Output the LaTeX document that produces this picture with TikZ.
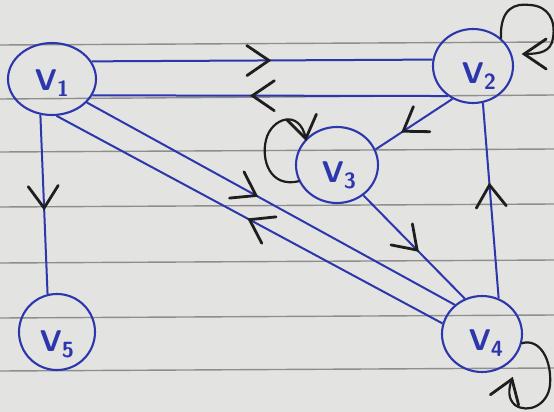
\documentclass[tikz,border=0pt]{standalone}
\usetikzlibrary{shapes.geometric,decorations.markings}
\definecolor{paper}{HTML}{E3E3E1}
\definecolor{rule}{HTML}{8E8E8C}
\definecolor{blueink}{HTML}{2C36AD}
\definecolor{ink}{HTML}{1E1E1E}
\newcommand\vlab[1]{\sffamily\bfseries V\raisebox{-6pt}{\fontsize{22}{22}\selectfont #1}}
\newcommand\chevron{\draw[ink,line width=2.8pt,line cap=round,line join=miter]
  (-22pt,15pt) -- (0pt,0pt) -- (-22pt,-15pt);}
\tikzset{
  vertex/.style={ellipse,draw=blueink,line width=2.1pt,inner sep=0pt},
  lbl/.style={text=blueink,font=\fontsize{30}{30}\selectfont,inner sep=0pt},
  edge/.style={draw=blueink,line width=2pt},
  midchev/.style={postaction={decorate},
    decoration={markings,mark=at position #1 with {\chevron}}},
  selfloop/.style={draw=ink,line width=2.2pt,line cap=round,postaction={decorate},
    decoration={markings,mark=at position 0.999 with {\chevron}}},
  paperline/.style={draw=rule,line width=1.4pt}
}
\begin{document}
\begin{tikzpicture}[x=1pt,y=-1pt]
  % sheet and ruling
  \fill[paper] (0,0) rectangle (554,412);
  \useasboundingbox (0,0) rectangle (554,412);
  \foreach \yl/\yr in {45/42,99/95,152/149,207/204,263/260,318/315,371/368}
    \draw[paperline] (0,\yl) -- (554,\yr);

  % vertices
  \node[vertex,minimum width=88pt,minimum height=72pt,
        label={[lbl,xshift=0pt,yshift=-4pt]center:\vlab{1}}] (v1) at (52,79) {};
  \node[vertex,minimum width=80pt,minimum height=74pt,
        label={[lbl,xshift=6pt,yshift=-10pt]center:\vlab{2}}] (v2) at (473,66) {};
  \node[vertex,minimum width=82pt,minimum height=76pt,
        label={[lbl,xshift=2pt,yshift=-10pt]center:\vlab{3}}] (v3) at (337,165) {};
  \node[vertex,minimum width=80pt,minimum height=76pt,
        label={[lbl,xshift=4pt,yshift=-9pt]center:\vlab{4}}] (v4) at (482,334) {};
  \node[vertex,minimum width=76pt,minimum height=76pt,
        label={[lbl,xshift=0pt,yshift=-12pt]center:\vlab{5}}] (v5) at (57,332) {};

  % directed edges with chevrons drawn part-way along
  \draw[edge,midchev=0.52] (v1.24)   -- (v2.171);
  \draw[edge,midchev=0.55] (v2.-130) -- (v1.-22);
  \draw[edge,midchev=0.46] (v1.-34)  -- (v4.133);
  \draw[edge,midchev=0.50] (v4.165)  -- (v1.-83);
  \draw[edge,midchev=0.52] (v1.-108) -- (v5.104);
  \draw[edge,midchev=0.64] (v2.-122) -- (v3.22);
  \draw[edge,midchev=0.53] (v3.-49)  -- (v4.116);
  \draw[edge,midchev=0.58] (v4.65)   -- (v2.-75);

  % self loops
  \coordinate (t2) at (524,54);
  \draw[selfloop] (v2.45) .. controls (500,8) and (515,3) .. (530,5)
    .. controls (548,6) and (556,20) .. (553,38)
    .. controls (551,52) and (540,54) .. (t2);
  \draw[selfloop] (v3.203) .. controls (270,188) and (261,160) .. (266,140)
    .. controls (271,118) and (300,108) .. (v3.140);
  \coordinate (t4) at (512,379);
  \draw[selfloop] (v4.-13) .. controls (540,338) and (552,360) .. (550,385)
    .. controls (548,405) and (528,414) .. (515,405)
    .. controls (508,399) and (508,390) .. (t4);
\end{tikzpicture}
\end{document}
